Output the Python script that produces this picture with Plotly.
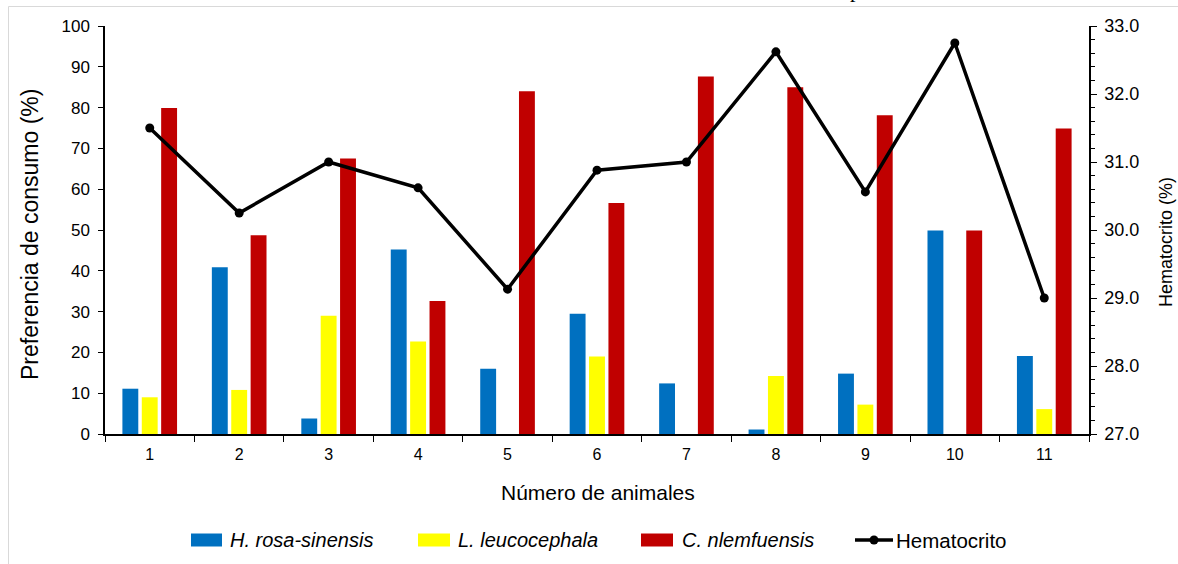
import plotly.graph_objects as go

animales = ["1", "2", "3", "4", "5", "6", "7", "8", "9", "10", "11"]
h_rosa = [11.1, 40.9, 3.8, 45.2, 16.0, 29.5, 12.4, 1.1, 14.8, 49.9, 19.1]
l_leuco = [9.0, 10.8, 29.0, 22.7, 0, 19.0, 0, 14.2, 7.2, 0, 6.1]
c_nlem = [79.9, 48.7, 67.5, 32.6, 84.0, 56.6, 87.6, 85.0, 78.1, 49.9, 74.9]
hematocrito = [31.5, 30.25, 31.0, 30.62, 29.13, 30.88, 31.0, 32.62, 30.56, 32.75, 29.0]

series_names = ["H. rosa-sinensis", "L. leucocephala", "C. nlemfuensis"]
series_colors = ["#0070C0", "#FFFF00", "#C00000"]

FONT = "Liberation Sans, Arial, sans-serif"

# plot area in pixels (for positioning layout elements)
L, R, T, B = 105, 1089, 26, 434
W, H = R - L, B - T


def px(x):
    return (x - L) / W


def py(y):
    return (B - y) / H


fig = go.Figure()
for name, vals, col in zip(series_names, [h_rosa, l_leuco, c_nlem], series_colors):
    fig.add_trace(go.Bar(x=animales, y=vals, name=name,
                         marker=dict(color=col, line=dict(width=0))))
fig.add_trace(go.Scatter(x=animales, y=hematocrito, name="Hematocrito", yaxis="y2",
                         mode="lines+markers",
                         line=dict(color="black", width=3.5),
                         marker=dict(color="black", size=9)))

shapes = [dict(type="rect", xref="paper", yref="paper",
               x0=px(8.5), x1=1.3, y0=-0.6, y1=py(6.5),
               line=dict(color="#d9d9d9", width=1), fillcolor="rgba(0,0,0,0)", layer="below")]
annotations = [
    dict(text="p", xref="paper", yref="paper", x=px(855), y=py(-11), xanchor="center",
         yanchor="middle", showarrow=False,
         font=dict(family="Liberation Serif, Times New Roman, serif", size=22)),
    dict(text="Preferencia de consumo (%)", xref="paper", yref="paper", x=px(30), y=py(235),
         xanchor="center", yanchor="middle", textangle=-90, showarrow=False,
         font=dict(size=23)),
    dict(text="Número de animales", xref="paper", yref="paper", x=px(598), y=py(492),
         xanchor="center", yanchor="middle", showarrow=False, font=dict(size=21)),
    dict(text="Hematocrito (%)", xref="paper", yref="paper", x=px(1166), y=py(242),
         xanchor="center", yanchor="middle", textangle=-90, showarrow=False,
         font=dict(size=18)),
]

# manual legend (wide swatches like the original)
leg_y = 540
sw_x = [(191, 222), (418, 450), (641, 673)]
txt_x = [228, 456, 680]
for (x0, x1), tx, name, col in zip(sw_x, txt_x, series_names, series_colors):
    shapes.append(dict(type="rect", xref="paper", yref="paper",
                       x0=px(x0), x1=px(x1), y0=py(leg_y + 6.5), y1=py(leg_y - 6.5),
                       line=dict(width=0), fillcolor=col))
    annotations.append(dict(text=f"<i>{name}</i>", xref="paper", yref="paper", x=px(tx),
                            y=py(leg_y), xanchor="left", yanchor="middle", showarrow=False,
                            font=dict(size=20)))
shapes.append(dict(type="line", xref="paper", yref="paper", x0=px(855), x1=px(893),
                   y0=py(leg_y), y1=py(leg_y), line=dict(color="black", width=3.5)))
shapes.append(dict(type="circle", xref="paper", yref="paper", x0=px(869.5), x1=px(878.5),
                   y0=py(leg_y + 4.5), y1=py(leg_y - 4.5), line=dict(width=0), fillcolor="black"))
annotations.append(dict(text="Hematocrito", xref="paper", yref="paper", x=px(894),
                        y=py(leg_y), xanchor="left", yanchor="middle", showarrow=False,
                        font=dict(size=20.5)))

fig.update_layout(
    width=1178, height=564,
    margin=dict(l=L, r=1178 - R, t=T, b=564 - B, autoexpand=False),
    paper_bgcolor="white", plot_bgcolor="white",
    font=dict(family=FONT, color="black", size=17),
    barmode="group", bargap=0.35, bargroupgap=0.18,
    showlegend=False,
    xaxis=dict(type="category", range=[-0.5, len(animales) - 0.5],
               showline=True, linecolor="black", linewidth=1.5,
               ticks="outside", tickson="boundaries", ticklen=6, tickcolor="black",
               tickfont=dict(size=16), showgrid=False, automargin=False,
               ticklabelstandoff=5),
    yaxis=dict(range=[0, 100], dtick=10, showline=True, linecolor="black", linewidth=1.5,
               ticks="outside", ticklen=5, tickcolor="black", showgrid=False, zeroline=False,
               tickfont=dict(size=17), automargin=False, ticklabelstandoff=5),
    yaxis2=dict(range=[27, 33], dtick=1, tickformat=".1f", overlaying="y", side="right",
                showline=True, linecolor="black", linewidth=1.5,
                ticks="outside", ticklen=6, tickcolor="black", showgrid=False, zeroline=False,
                tickfont=dict(size=18), automargin=False, ticklabelstandoff=4,
                minor=dict(dtick=0.2, ticks="outside", ticklen=4, tickcolor="black")),
    shapes=shapes,
    annotations=annotations,
)

fig.write_html("out.html", config={"displayModeBar": False},
               post_script="document.body.style.margin='0';document.body.style.overflow='hidden';")
